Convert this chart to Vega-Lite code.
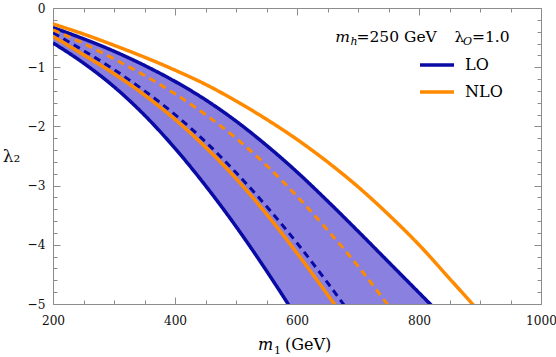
{
  "$schema": "https://vega.github.io/schema/vega-lite/v6.json",
  "width": 488,
  "height": 296,
  "autosize": {"type": "none"},
  "padding": {"left": 53, "top": 8, "right": 15, "bottom": 53},
  "background": "white",
  "config": {
    "view": {"stroke": "#8c8c8c", "strokeWidth": 1},
    "font": "DejaVu Serif",
    "text": {"font": "DejaVu Serif", "color": "#000000"},
    "axis": {
      "domain": false,
      "grid": false,
      "tickColor": "#8c8c8c",
      "tickWidth": 1,
      "labelFont": "DejaVu Serif Condensed",
      "labelFontSize": 13.5,
      "labelColor": "#111111",
      "labelFlush": false,
      "labelOverlap": false,
      "titleFont": "DejaVu Serif",
      "titleFontWeight": "normal",
      "titleColor": "#111111"
    },
    "legend": {"labelFont": "DejaVu Serif"}
  },
  "datasets": {
    "band": [
      {"m": 200, "lo": -0.59, "hi": -0.33},
      {"m": 250, "lo": -0.93, "hi": -0.52},
      {"m": 300, "lo": -1.33, "hi": -0.73},
      {"m": 350, "lo": -1.81, "hi": -0.97},
      {"m": 400, "lo": -2.37, "hi": -1.24},
      {"m": 450, "lo": -3.0, "hi": -1.55},
      {"m": 500, "lo": -3.69, "hi": -1.91},
      {"m": 550, "lo": -4.44, "hi": -2.32},
      {"m": 600, "lo": -5.24, "hi": -2.77},
      {"m": 650, "lo": -6.1, "hi": -3.26},
      {"m": 700, "lo": -7.0, "hi": -3.77},
      {"m": 750, "lo": -7.9, "hi": -4.29},
      {"m": 800, "lo": -8.8, "hi": -4.81},
      {"m": 850, "lo": -9.7, "hi": -5.33}
    ],
    "curves": [
      {"curve": "LO_max", "order": "LO", "kind": "solid", "m": 200, "lam": -0.33},
      {"curve": "LO_max", "order": "LO", "kind": "solid", "m": 250, "lam": -0.52},
      {"curve": "LO_max", "order": "LO", "kind": "solid", "m": 300, "lam": -0.73},
      {"curve": "LO_max", "order": "LO", "kind": "solid", "m": 350, "lam": -0.97},
      {"curve": "LO_max", "order": "LO", "kind": "solid", "m": 400, "lam": -1.24},
      {"curve": "LO_max", "order": "LO", "kind": "solid", "m": 450, "lam": -1.55},
      {"curve": "LO_max", "order": "LO", "kind": "solid", "m": 500, "lam": -1.91},
      {"curve": "LO_max", "order": "LO", "kind": "solid", "m": 550, "lam": -2.32},
      {"curve": "LO_max", "order": "LO", "kind": "solid", "m": 600, "lam": -2.77},
      {"curve": "LO_max", "order": "LO", "kind": "solid", "m": 650, "lam": -3.26},
      {"curve": "LO_max", "order": "LO", "kind": "solid", "m": 700, "lam": -3.77},
      {"curve": "LO_max", "order": "LO", "kind": "solid", "m": 750, "lam": -4.29},
      {"curve": "LO_max", "order": "LO", "kind": "solid", "m": 800, "lam": -4.81},
      {"curve": "LO_max", "order": "LO", "kind": "solid", "m": 850, "lam": -5.33},
      {"curve": "LO_min", "order": "LO", "kind": "solid", "m": 200, "lam": -0.59},
      {"curve": "LO_min", "order": "LO", "kind": "solid", "m": 250, "lam": -0.93},
      {"curve": "LO_min", "order": "LO", "kind": "solid", "m": 300, "lam": -1.33},
      {"curve": "LO_min", "order": "LO", "kind": "solid", "m": 350, "lam": -1.81},
      {"curve": "LO_min", "order": "LO", "kind": "solid", "m": 400, "lam": -2.37},
      {"curve": "LO_min", "order": "LO", "kind": "solid", "m": 450, "lam": -3.0},
      {"curve": "LO_min", "order": "LO", "kind": "solid", "m": 500, "lam": -3.69},
      {"curve": "LO_min", "order": "LO", "kind": "solid", "m": 550, "lam": -4.44},
      {"curve": "LO_min", "order": "LO", "kind": "solid", "m": 600, "lam": -5.24},
      {"curve": "LO_min", "order": "LO", "kind": "solid", "m": 650, "lam": -6.1},
      {"curve": "LO_c", "order": "LO", "kind": "dashed", "m": 200, "lam": -0.42},
      {"curve": "LO_c", "order": "LO", "kind": "dashed", "m": 250, "lam": -0.72},
      {"curve": "LO_c", "order": "LO", "kind": "dashed", "m": 300, "lam": -1.04},
      {"curve": "LO_c", "order": "LO", "kind": "dashed", "m": 350, "lam": -1.4},
      {"curve": "LO_c", "order": "LO", "kind": "dashed", "m": 400, "lam": -1.8},
      {"curve": "LO_c", "order": "LO", "kind": "dashed", "m": 450, "lam": -2.26},
      {"curve": "LO_c", "order": "LO", "kind": "dashed", "m": 500, "lam": -2.78},
      {"curve": "LO_c", "order": "LO", "kind": "dashed", "m": 550, "lam": -3.35},
      {"curve": "LO_c", "order": "LO", "kind": "dashed", "m": 600, "lam": -3.97},
      {"curve": "LO_c", "order": "LO", "kind": "dashed", "m": 650, "lam": -4.64},
      {"curve": "LO_c", "order": "LO", "kind": "dashed", "m": 700, "lam": -5.34},
      {"curve": "NLO_max", "order": "NLO", "kind": "solid", "m": 200, "lam": -0.27},
      {"curve": "NLO_max", "order": "NLO", "kind": "solid", "m": 250, "lam": -0.44},
      {"curve": "NLO_max", "order": "NLO", "kind": "solid", "m": 300, "lam": -0.63},
      {"curve": "NLO_max", "order": "NLO", "kind": "solid", "m": 350, "lam": -0.83},
      {"curve": "NLO_max", "order": "NLO", "kind": "solid", "m": 400, "lam": -1.05},
      {"curve": "NLO_max", "order": "NLO", "kind": "solid", "m": 450, "lam": -1.29},
      {"curve": "NLO_max", "order": "NLO", "kind": "solid", "m": 500, "lam": -1.57},
      {"curve": "NLO_max", "order": "NLO", "kind": "solid", "m": 550, "lam": -1.88},
      {"curve": "NLO_max", "order": "NLO", "kind": "solid", "m": 600, "lam": -2.22},
      {"curve": "NLO_max", "order": "NLO", "kind": "solid", "m": 650, "lam": -2.6},
      {"curve": "NLO_max", "order": "NLO", "kind": "solid", "m": 700, "lam": -3.02},
      {"curve": "NLO_max", "order": "NLO", "kind": "solid", "m": 750, "lam": -3.49},
      {"curve": "NLO_max", "order": "NLO", "kind": "solid", "m": 800, "lam": -4.0},
      {"curve": "NLO_max", "order": "NLO", "kind": "solid", "m": 850, "lam": -4.57},
      {"curve": "NLO_max", "order": "NLO", "kind": "solid", "m": 900, "lam": -5.14},
      {"curve": "NLO_min", "order": "NLO", "kind": "solid", "m": 200, "lam": -0.48},
      {"curve": "NLO_min", "order": "NLO", "kind": "solid", "m": 250, "lam": -0.79},
      {"curve": "NLO_min", "order": "NLO", "kind": "solid", "m": 300, "lam": -1.11},
      {"curve": "NLO_min", "order": "NLO", "kind": "solid", "m": 350, "lam": -1.47},
      {"curve": "NLO_min", "order": "NLO", "kind": "solid", "m": 400, "lam": -1.88},
      {"curve": "NLO_min", "order": "NLO", "kind": "solid", "m": 450, "lam": -2.35},
      {"curve": "NLO_min", "order": "NLO", "kind": "solid", "m": 500, "lam": -2.88},
      {"curve": "NLO_min", "order": "NLO", "kind": "solid", "m": 550, "lam": -3.48},
      {"curve": "NLO_min", "order": "NLO", "kind": "solid", "m": 600, "lam": -4.14},
      {"curve": "NLO_min", "order": "NLO", "kind": "solid", "m": 650, "lam": -4.84},
      {"curve": "NLO_min", "order": "NLO", "kind": "solid", "m": 700, "lam": -5.56},
      {"curve": "NLO_c", "order": "NLO", "kind": "dashed", "m": 200, "lam": -0.37},
      {"curve": "NLO_c", "order": "NLO", "kind": "dashed", "m": 250, "lam": -0.6},
      {"curve": "NLO_c", "order": "NLO", "kind": "dashed", "m": 300, "lam": -0.86},
      {"curve": "NLO_c", "order": "NLO", "kind": "dashed", "m": 350, "lam": -1.14},
      {"curve": "NLO_c", "order": "NLO", "kind": "dashed", "m": 400, "lam": -1.45},
      {"curve": "NLO_c", "order": "NLO", "kind": "dashed", "m": 450, "lam": -1.8},
      {"curve": "NLO_c", "order": "NLO", "kind": "dashed", "m": 500, "lam": -2.2},
      {"curve": "NLO_c", "order": "NLO", "kind": "dashed", "m": 550, "lam": -2.66},
      {"curve": "NLO_c", "order": "NLO", "kind": "dashed", "m": 600, "lam": -3.18},
      {"curve": "NLO_c", "order": "NLO", "kind": "dashed", "m": 650, "lam": -3.75},
      {"curve": "NLO_c", "order": "NLO", "kind": "dashed", "m": 700, "lam": -4.36},
      {"curve": "NLO_c", "order": "NLO", "kind": "dashed", "m": 750, "lam": -5.03}
    ],
    "hdr": [{"m": 700, "lam": -0.57}],
    "xt": [{"m": 600, "lam": -5}]
  },
  "layer": [
    {
      "data": {"name": "band"},
      "mark": {"type": "area", "color": "#8980df", "interpolate": "monotone", "clip": true},
      "encoding": {
        "x": {
          "field": "m", "type": "quantitative",
          "scale": {"domain": [200, 1000], "nice": false, "zero": false},
          "axis": {
            "orient": "bottom", "title": null,
            "values": [200, 400, 600, 800, 1000],
            "format": "d", "tickSize": -7, "labelPadding": 16
          }
        },
        "y": {
          "field": "lo", "type": "quantitative",
          "scale": {"domain": [-5, 0], "nice": false, "zero": false},
          "axis": {
            "orient": "left",
            "title": "λ₂",
            "titleAngle": 0,
            "titleFontSize": 17,
            "titleAlign": "center",
            "titleBaseline": "middle",
            "titleX": -42,
            "titleY": 148,
            "values": [-5, -4, -3, -2, -1, 0],
            "format": "d", "tickSize": -7, "labelPadding": 15
          }
        },
        "y2": {"field": "hi"}
      }
    },
    {
      "data": {"name": "curves"},
      "mark": {"type": "line", "interpolate": "monotone", "clip": true},
      "encoding": {
        "x": {
          "field": "m", "type": "quantitative",
          "axis": {"orient": "top", "title": null, "labels": false, "values": [200, 400, 600, 800, 1000], "tickSize": -7}
        },
        "y": {
          "field": "lam", "type": "quantitative",
          "axis": {"orient": "right", "title": null, "labels": false, "values": [-5, -4, -3, -2, -1, 0], "tickSize": -7}
        },
        "detail": {"field": "curve"},
        "color": {
          "field": "order", "type": "nominal",
          "scale": {"domain": ["LO", "NLO"], "range": ["#0a0aa5", "#ff8a00"]},
          "legend": {
            "orient": "none",
            "legendX": 365,
            "legendY": 38,
            "title": null,
            "padding": 0,
            "symbolType": "stroke",
            "symbolSize": 1156,
            "symbolStrokeWidth": 3.5,
            "labelFontSize": 16,
            "labelColor": "#000000",
            "labelOffset": 9,
            "rowPadding": -11,
            "encode": {
              "symbols": {"update": {"stroke": {"signal": "datum.value === 'NLO' ? '#b05a10' : '#0a0aa5'"}}}
            }
          }
        },
        "strokeDash": {
          "field": "kind", "type": "nominal",
          "scale": {"domain": ["solid", "dashed"], "range": [[1, 0], [7, 5]]},
          "legend": null
        },
        "strokeWidth": {
          "field": "kind", "type": "nominal",
          "scale": {"domain": ["solid", "dashed"], "range": [3.5, 3]},
          "legend": null
        }
      }
    },
    {
      "data": {"name": "hdr"},
      "layer": [
        {"mark": {"type": "text", "text": "m", "fontSize": 15.5, "fontStyle": "italic", "align": "right", "baseline": "alphabetic", "dx": -8}},
        {"mark": {"type": "text", "text": "h", "fontSize": 11, "fontStyle": "italic", "align": "left", "baseline": "alphabetic", "dx": -7.5, "dy": 3}},
        {"mark": {"type": "text", "text": "=250 GeV", "fontSize": 15.5, "align": "left", "baseline": "alphabetic", "dx": -1.5}},
        {"mark": {"type": "text", "text": "λ", "fontSize": 15.5, "align": "left", "baseline": "alphabetic", "dx": 96.5}},
        {"mark": {"type": "text", "text": "O", "fontSize": 11, "fontStyle": "italic", "align": "left", "baseline": "alphabetic", "dx": 105, "dy": 3}},
        {"mark": {"type": "text", "text": "=1.0", "fontSize": 15.5, "align": "left", "baseline": "alphabetic", "dx": 114}}
      ],
      "encoding": {
        "x": {
          "field": "m", "type": "quantitative",
          "axis": {"orient": "bottom", "title": null, "labels": false, "values": [250, 300, 350, 450, 500, 550, 650, 700, 750, 850, 900, 950], "tickSize": -4}
        },
        "y": {
          "field": "lam", "type": "quantitative",
          "axis": {"orient": "left", "title": null, "labels": false, "values": [-4.8, -4.6, -4.4, -4.2, -3.8, -3.6, -3.4, -3.2, -2.8, -2.6, -2.4, -2.2, -1.8, -1.6, -1.4, -1.2, -0.8, -0.6, -0.4, -0.2], "tickSize": -4}
        }
      }
    },
    {
      "data": {"name": "xt"},
      "layer": [
        {"mark": {"type": "text", "text": "m", "fontSize": 16, "fontStyle": "italic", "align": "left", "baseline": "alphabetic", "dx": -39, "dy": 46}},
        {"mark": {"type": "text", "text": "1", "fontSize": 11, "align": "left", "baseline": "alphabetic", "dx": -23, "dy": 50}},
        {"mark": {"type": "text", "text": "(GeV)", "fontSize": 16, "align": "left", "baseline": "alphabetic", "dx": -12, "dy": 46}}
      ],
      "encoding": {
        "x": {
          "field": "m", "type": "quantitative",
          "axis": {"orient": "top", "title": null, "labels": false, "values": [250, 300, 350, 450, 500, 550, 650, 700, 750, 850, 900, 950], "tickSize": -4}
        },
        "y": {
          "field": "lam", "type": "quantitative",
          "axis": {"orient": "right", "title": null, "labels": false, "values": [-4.8, -4.6, -4.4, -4.2, -3.8, -3.6, -3.4, -3.2, -2.8, -2.6, -2.4, -2.2, -1.8, -1.6, -1.4, -1.2, -0.8, -0.6, -0.4, -0.2], "tickSize": -4}
        }
      }
    }
  ],
  "resolve": {"axis": {"x": "independent", "y": "independent"}}
}
